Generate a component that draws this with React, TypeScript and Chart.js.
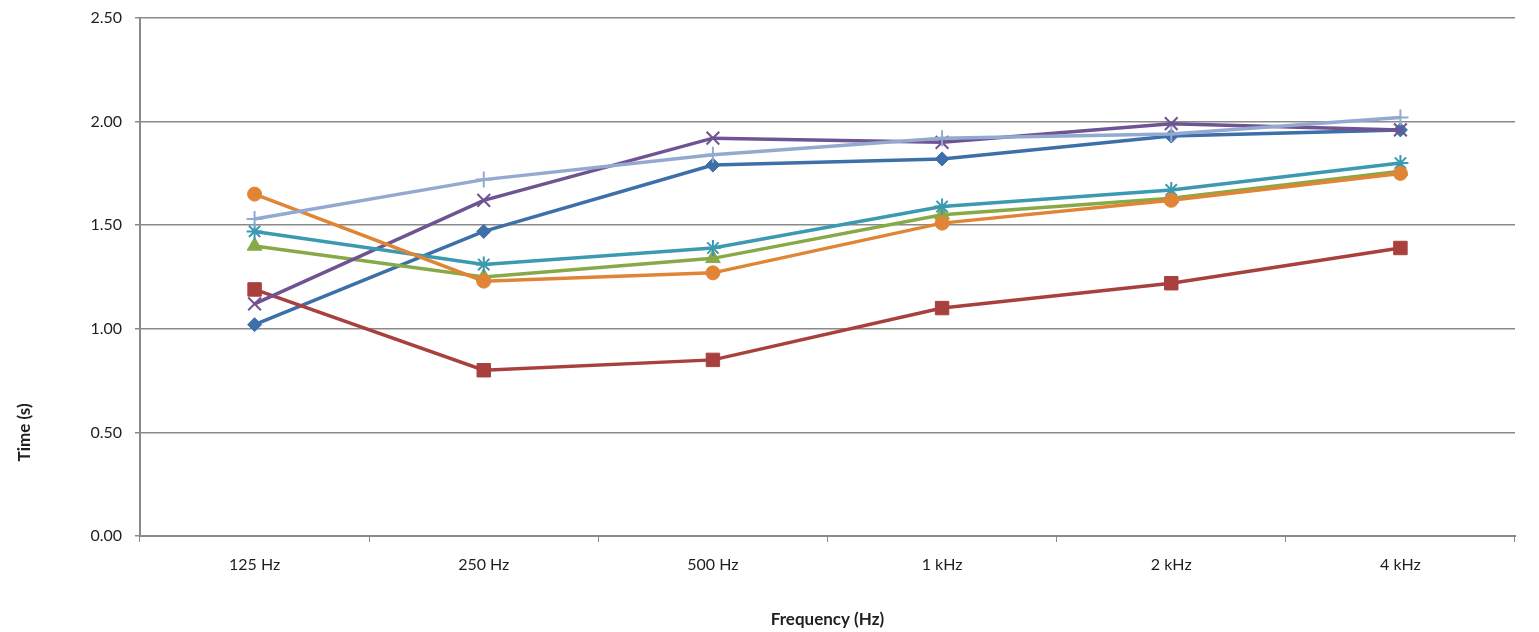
import React, { useEffect, useRef } from "react";
import { Chart, registerables } from "chart.js";

Chart.register(...registerables);

const categories = ["125 Hz", "250 Hz", "500 Hz", "1 kHz", "2 kHz", "4 kHz"];

const series1 = [1.02, 1.47, 1.79, 1.82, 1.93, 1.96];
const series2 = [1.19, 0.8, 0.85, 1.1, 1.22, 1.39];
const series3 = [1.4, 1.25, 1.34, 1.55, 1.63, 1.76];
const series4 = [1.12, 1.62, 1.92, 1.9, 1.99, 1.96];
const series5 = [1.47, 1.31, 1.39, 1.59, 1.67, 1.8];
const series6 = [1.65, 1.23, 1.27, 1.51, 1.62, 1.75];
const series7 = [1.53, 1.72, 1.84, 1.92, 1.94, 2.02];

const yTitle = "Time (s)";
const xTitle = "Frequency (Hz)";

const FONT = "Lato, 'Open Sans', sans-serif";
const TEXT = "#1f1f1f";
const GRID = "#8a8a8a";

const yTitlePlugin = {
  id: "yTitlePlugin",
  afterDraw(chart: any) {
    const { ctx } = chart;
    const y = chart.scales.y.getPixelForValue(0.5);
    ctx.save();
    ctx.translate(25, y);
    ctx.rotate(-Math.PI / 2);
    ctx.font = `bold 17px ${FONT}`;
    ctx.fillStyle = TEXT;
    ctx.textAlign = "center";
    ctx.textBaseline = "middle";
    ctx.fillText(yTitle, 0, 0);
    ctx.restore();
  },
};

function ds(label: string, data: number[], color: string, pointStyle: string, radius: number, order: number, pbw = 1) {
  return {
    label,
    data,
    borderColor: color,
    backgroundColor: color,
    borderWidth: 3.5,
    pointStyle,
    pointRadius: radius,
    pointHoverRadius: radius,
    pointBorderWidth: pbw,
    pointBackgroundColor: color,
    pointBorderColor: color,
    tension: 0,
    order,
  };
}

export default function App() {
  const ref = useRef<HTMLCanvasElement>(null);
  useEffect(() => {
    if (!ref.current) return;
    const chart = new Chart(ref.current, {
      type: "line",
      data: {
        labels: categories,
        datasets: [
          ds("Series 1", series1, "#3d6fa9", "rectRot", 7, 7),
          ds("Series 2", series2, "#a8413d", "rect", 9.5, 6),
          ds("Series 3", series3, "#88a948", "triangle", 8.5, 5),
          ds("Series 4", series4, "#6f5393", "crossRot", 9, 4, 2),
          ds("Series 5", series5, "#3b99b0", "star", 8, 3, 2),
          ds("Series 6", series6, "#e08536", "circle", 7, 2),
          ds("Series 7", series7, "#93a9d0", "cross", 8, 1, 2),
        ] as any,
      },
      options: {
        animation: false,
        responsive: true,
        maintainAspectRatio: false,
        layout: { padding: { top: 18, right: 24, left: 0, bottom: 0 } },
        plugins: {
          legend: { display: false },
          tooltip: { enabled: false },
        },
        scales: {
          x: {
            offset: true,
            grid: {
              offset: true,
              drawOnChartArea: false,
              drawTicks: true,
              tickLength: 6,
              color: GRID,
            },
            border: { display: true, color: GRID, width: 2 },
            ticks: {
              color: TEXT,
              font: { family: FONT, size: 16 },
              padding: 13,
              maxRotation: 0,
            },
            title: {
              display: true,
              text: xTitle,
              color: TEXT,
              font: { family: FONT, size: 17, weight: "bold" },
              padding: { top: 0, bottom: 2 },
            },
            afterFit(scale: any) {
              scale.height = 96;
              scale.paddingLeft = 0;
              scale.paddingRight = 0;
            },
          },
          y: {
            min: 0,
            max: 2.5,
            grid: {
              color: GRID,
              lineWidth: 1.5,
              tickLength: 5,
              drawTicks: true,
            },
            border: { display: true, color: GRID, width: 2 },
            ticks: {
              stepSize: 0.5,
              color: TEXT,
              font: { family: FONT, size: 16 },
              padding: 13,
              callback: (v: any) => Number(v).toFixed(2),
            },
            afterFit(scale: any) {
              scale.width = 140;
              scale.paddingTop = 0;
              scale.paddingBottom = 0;
            },
          },
        },
      },
      plugins: [yTitlePlugin],
    });
    return () => chart.destroy();
  }, []);
  return (
    <div style={{ position: "fixed", left: 0, top: 0, width: 1539, height: 632, background: "#fff" }}>
      <canvas ref={ref} />
    </div>
  );
}
